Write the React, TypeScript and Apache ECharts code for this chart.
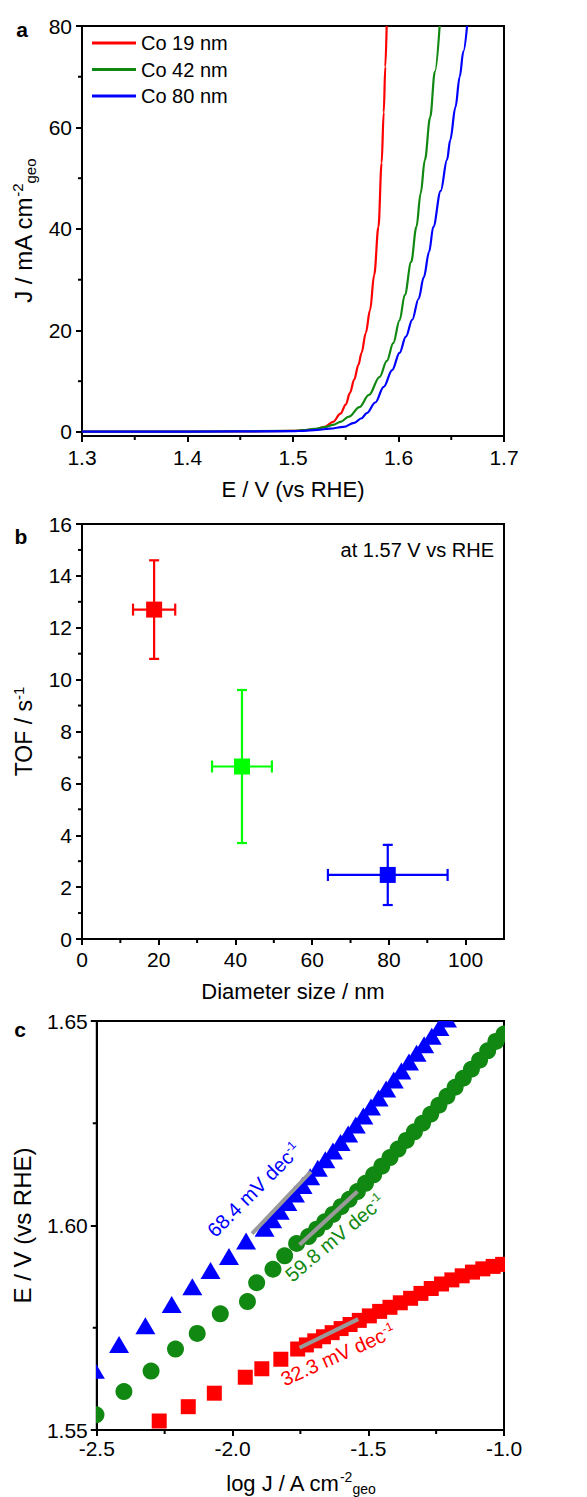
import React, { useEffect, useRef } from "react";
import * as echarts from "echarts";

const FONT = "'Liberation Sans', Arial, Helvetica, sans-serif";

// ---------- Panel a: LSV curves [E (V vs RHE), J (mA cm-2 geo)] ----------
const lsvNames = ["Co 19 nm", "Co 42 nm", "Co 80 nm"];
const lsvColors = ["#ff0000", "#118811", "#0000ff"];
const lsvCo19: number[][] = [
  [1.3, 0.05], [1.4, 0.08], [1.45, 0.1], [1.5, 0.2], [1.515, 0.4], [1.523, 0.6],
  [1.53, 1.0], [1.538, 2.0], [1.545, 3.6], [1.55, 5.4], [1.554, 7.7], [1.558, 10.3],
  [1.562, 13.2], [1.565, 15.6], [1.569, 19.5], [1.573, 24], [1.577, 31], [1.581, 40.4],
  [1.584, 53], [1.586, 63], [1.5875, 72], [1.5888, 80],
];
const lsvCo42: number[][] = [
  [1.3, 0.05], [1.4, 0.08], [1.5, 0.2], [1.51, 0.35], [1.52, 0.6], [1.53, 0.95],
  [1.538, 1.4], [1.545, 2.0], [1.553, 3.0], [1.563, 4.9], [1.572, 7.3], [1.582, 10.8],
  [1.589, 14.0], [1.595, 17.5], [1.601, 22], [1.606, 27], [1.612, 33.5], [1.617, 40.4],
  [1.621, 47], [1.625, 53.6], [1.63, 62], [1.6345, 71], [1.639, 80],
];
const lsvCo80: number[][] = [
  [1.3, 0.05], [1.4, 0.08], [1.5, 0.15], [1.51, 0.22], [1.523, 0.4], [1.535, 0.65],
  [1.548, 1.0], [1.558, 1.8], [1.565, 2.7], [1.57, 3.7], [1.578, 5.8], [1.586, 8.9],
  [1.594, 12.2], [1.601, 15.6], [1.607, 18.8], [1.613, 22.1], [1.619, 26.2],
  [1.624, 30.5], [1.629, 35.5], [1.633, 40.4], [1.64, 47.5], [1.646, 53.6],
  [1.649, 57.5], [1.654, 64], [1.658, 70], [1.6615, 75], [1.665, 80],
];
const aXTicks = [1.3, 1.4, 1.5, 1.6, 1.7];
const aXMinor = [1.35, 1.45, 1.55, 1.65];
const aYTicks = [0, 20, 40, 60, 80];
const aYMinor = [10, 30, 50, 70];

// ---------- Panel b: TOF vs diameter ----------
const diameters = [18.8, 41.7, 79.7];
const diameterErr = [5.5, 7.8, 15.6];
const tof = [12.7, 6.65, 2.47];
const tofErr = [1.9, 2.95, 1.16];
const tofColors = ["#ff0000", "#00ff00", "#0000ff"];
const bXTicks = [0, 20, 40, 60, 80, 100];
const bXMinor = [10, 30, 50, 70, 90];
const bYTicks = [0, 2, 4, 6, 8, 10, 12, 14, 16];
const bYMinor = [1, 3, 5, 7, 9, 11, 13, 15];

// ---------- Panel c: Tafel plots [log J, E] ----------
const tafelCo80: number[][] = [
  [-2.507, 1.5646], [-2.418, 1.5709], [-2.321, 1.5755], [-2.224, 1.5807],
  [-2.148, 1.585], [-2.081, 1.589], [-2.013, 1.5924], [-1.95, 1.5962],
  [-1.882, 1.5993], [-1.854, 1.6014], [-1.826, 1.6035], [-1.798, 1.6056],
  [-1.77, 1.6077], [-1.742, 1.6098], [-1.714, 1.6119], [-1.686, 1.614],
  [-1.658, 1.6161], [-1.63, 1.6182], [-1.602, 1.6203], [-1.574, 1.6224],
  [-1.546, 1.6246], [-1.518, 1.6268], [-1.49, 1.629], [-1.462, 1.6312],
  [-1.434, 1.6334], [-1.406, 1.6356], [-1.378, 1.6378], [-1.35, 1.64],
  [-1.322, 1.6421], [-1.294, 1.6442], [-1.266, 1.6463], [-1.238, 1.6484],
  [-1.21, 1.6505], [-1.182, 1.6526],
];
const tafelCo42: number[][] = [
  [-2.503, 1.5537], [-2.4, 1.5594], [-2.3, 1.5644], [-2.21, 1.5698],
  [-2.13, 1.5736], [-2.045, 1.5784], [-1.945, 1.5814], [-1.911, 1.586],
  [-1.851, 1.5893], [-1.808, 1.5926], [-1.764, 1.5956], [-1.72, 1.5973],
  [-1.69, 1.5991], [-1.66, 1.6009], [-1.63, 1.6027], [-1.6, 1.6046],
  [-1.57, 1.6064], [-1.54, 1.6083], [-1.51, 1.6103], [-1.48, 1.6124],
  [-1.45, 1.6145], [-1.42, 1.6166], [-1.39, 1.6187], [-1.36, 1.6208],
  [-1.33, 1.6229], [-1.3, 1.625], [-1.27, 1.6272], [-1.24, 1.6294],
  [-1.21, 1.6316], [-1.18, 1.6338], [-1.15, 1.636], [-1.12, 1.6382],
  [-1.09, 1.6404], [-1.06, 1.6427], [-1.03, 1.645], [-1.0, 1.6468],
];
const tafelCo19: number[][] = [
  [-2.27, 1.5522], [-2.163, 1.5557], [-2.067, 1.559], [-1.953, 1.5629],
  [-1.892, 1.565], [-1.822, 1.5673], [-1.76, 1.5698], [-1.728, 1.5708],
  [-1.697, 1.5718], [-1.665, 1.5728], [-1.633, 1.5738], [-1.6, 1.5748],
  [-1.567, 1.5758], [-1.533, 1.5768], [-1.496, 1.5779], [-1.458, 1.579],
  [-1.42, 1.58], [-1.382, 1.5811], [-1.344, 1.5822], [-1.306, 1.5834],
  [-1.268, 1.5846], [-1.23, 1.5857], [-1.192, 1.5867], [-1.154, 1.5877],
  [-1.116, 1.5886], [-1.078, 1.5894], [-1.04, 1.59], [-1.005, 1.5905],
];
const fitCo80 = [[-1.928, 1.598], [-1.711, 1.6132]];
const fitCo42 = [[-1.753, 1.5953], [-1.54, 1.6083]];
const fitCo19 = [[-1.753, 1.5701], [-1.537, 1.5771]];
const slopeTexts = ["68.4 mV dec", "59.8 mV dec", "32.3 mV dec"];
const cXTicks = [-2.5, -2.0, -1.5, -1.0];
const cXMinor = [-2.25, -1.75, -1.25];
const cYTicks = [1.55, 1.6, 1.65];
const cYMinor = [1.575, 1.625];

function nameStyle(size: number) {
  const small = Math.round(size * 0.64);
  return {
    fontSize: size, lineHeight: size + 4, color: "#000", fontFamily: FONT,
    rich: {
      sup: { fontSize: small, lineHeight: small, verticalAlign: "top", color: "#000", fontFamily: FONT },
      sub: { fontSize: small, lineHeight: small - 2, verticalAlign: "bottom", color: "#000", fontFamily: FONT },
    },
  };
}

function majorAxis(gridIndex: number, position: string, min: number, max: number, ticks: number[], fmt: (v: number) => string, margin: number, name: string, nameGap: number, nameSize: number) {
  return {
    type: "value", gridIndex, position, min, max,
    axisLine: { show: true, onZero: false, lineStyle: { color: "#000", width: 2 } },
    axisTick: { show: true, inside: false, length: 6, customValues: ticks, lineStyle: { color: "#000", width: 2 } },
    axisLabel: { show: true, customValues: ticks, formatter: (v: number) => fmt(v), margin, fontSize: 21, color: "#000", fontFamily: FONT },
    splitLine: { show: false },
    minorTick: { show: false },
    name, nameLocation: "middle", nameGap, nameTextStyle: nameStyle(nameSize),
  };
}

// minor ticks, placed through the axes of one grid
function minorTickSeries(gi: number, dim: "x" | "y", values: number[], edge: number) {
  return {
    type: "custom", xAxisIndex: gi, yAxisIndex: gi, clip: false, silent: true, z: 1,
    encode: { x: 0, y: 1 },
    data: values.map((v) => (dim === "x" ? [v, edge] : [edge, v])),
    renderItem: (_p: any, api: any) => {
      const pt = api.coord([api.value(0), api.value(1)]);
      const x2 = dim === "x" ? pt[0] : pt[0] - 4;
      const y2 = dim === "x" ? pt[1] + 4 : pt[1];
      return { type: "line", shape: { x1: pt[0], y1: pt[1], x2, y2 }, style: { stroke: "#000", lineWidth: 2 } };
    },
  };
}

function markerSeries(name: string, data: number[][], shape: string, color: string) {
  return {
    type: "custom", name, xAxisIndex: 2, yAxisIndex: 2, clip: true, data,
    encode: { x: 0, y: 1 }, z: 3,
    renderItem: (_p: any, api: any) => {
      const pt = api.coord([api.value(0), api.value(1)]);
      const cx = pt[0], cy = pt[1];
      if (shape === "circle") return { type: "circle", shape: { cx, cy, r: 8.5 }, style: { fill: color } };
      if (shape === "rect") return { type: "rect", shape: { x: cx - 7.5, y: cy - 7.5, width: 15, height: 15 }, style: { fill: color } };
      const w = 20, h = 17;
      return { type: "polygon", shape: { points: [[cx, cy - h / 2], [cx + w / 2, cy + h / 2], [cx - w / 2, cy + h / 2]] }, style: { fill: color } };
    },
  };
}
function fitSeries(name: string, data: number[][]) {
  return {
    type: "line", name, xAxisIndex: 2, yAxisIndex: 2, data, symbol: "none", z: 6,
    lineStyle: { color: "#9a9a9a", width: 4 },
  };
}
function slopeLabel(text: string, color: string, x: number, y: number, deg: number) {
  return {
    type: "text", x, y, rotation: (deg * Math.PI) / 180, z: 10,
    style: {
      text: text + "{sup|-1}", fill: color, fontSize: 20, fontFamily: FONT, lineHeight: 22,
      align: "center", verticalAlign: "middle",
      rich: { sup: { fontSize: 12, lineHeight: 12, verticalAlign: "top", fill: color, fontFamily: FONT } },
    },
  };
}
function panelLabel(t: string, x: number, y: number) {
  return { type: "text", x, y, style: { text: t, fill: "#000", fontSize: 21, fontWeight: "bold", fontFamily: FONT, align: "center", verticalAlign: "middle" } };
}

export default function App() {
  const ref = useRef<HTMLDivElement>(null);
  useEffect(() => {
    if (!ref.current) return;
    const chart = echarts.init(ref.current, undefined, { renderer: "svg" });
    const gridBase = { show: true, borderColor: "#000", borderWidth: 2, backgroundColor: "transparent", containLabel: false };
    const option: any = {
      animation: false,
      backgroundColor: "#fff",
      grid: [
        { ...gridBase, left: 82, top: 26, width: 422, height: 410 },
        { ...gridBase, left: 82, top: 524, width: 422, height: 415 },
        { ...gridBase, left: 82, top: 1021, width: 422, height: 411 },
      ],
      xAxis: [
        majorAxis(0, "bottom", 1.3, 1.7, aXTicks, (v) => v.toFixed(1), 11, "E / V (vs RHE)", 40, 22),
        majorAxis(1, "bottom", 0, 110, bXTicks, (v) => String(Math.round(v)), 10, "Diameter size / nm", 39, 22),
        majorAxis(2, "bottom", -2.5, -1.0, cXTicks, (v) => v.toFixed(1), 8, "log J / A cm{sup|-2}{sub|geo}", 40, 22),
      ],
      yAxis: [
        majorAxis(0, "left", -0.8, 80, aYTicks, (v) => String(Math.round(v)), 10, "J / mA cm{sup|-2}{sub|geo}", 41, 24),
        majorAxis(1, "left", 0, 16, bYTicks, (v) => String(Math.round(v)), 10, "TOF / s{sup|-1}", 44, 23),
        majorAxis(2, "left", 1.55, 1.65, cYTicks, (v) => v.toFixed(2), 9, "E / V (vs RHE)", 42, 24),
      ],
      legend: {
        data: lsvNames, left: 92, top: 33, orient: "vertical", icon: "rect",
        itemWidth: 44, itemHeight: 3, itemGap: 6.5, padding: 0, selectedMode: false,
        textStyle: { fontSize: 20, color: "#000", fontFamily: FONT },
      },
      series: [
        ...[lsvCo19, lsvCo42, lsvCo80].map((d, i) => ({
          type: "line", name: lsvNames[i], xAxisIndex: 0, yAxisIndex: 0, data: d,
          symbol: "none", showSymbol: false, smooth: 0.35, smoothMonotone: "x",
          color: lsvColors[i], lineStyle: { color: lsvColors[i], width: 2.2 },
        })),
        minorTickSeries(0, "x", aXMinor, -0.8),
        minorTickSeries(0, "y", aYMinor, 1.3),
        minorTickSeries(1, "x", bXMinor, 0),
        minorTickSeries(1, "y", bYMinor, 0),
        minorTickSeries(2, "x", cXMinor, 1.55),
        minorTickSeries(2, "y", cYMinor, -2.5),
        {
          type: "custom", name: "TOF", xAxisIndex: 1, yAxisIndex: 1, clip: false,
          encode: { x: 0, y: 1 },
          data: diameters.map((d, i) => [d, tof[i], diameterErr[i], tofErr[i]]),
          renderItem: (p: any, api: any) => {
            const x = api.value(0), y = api.value(1), xe = api.value(2), ye = api.value(3);
            const c = api.coord([x, y]);
            const l = api.coord([x - xe, y]), r = api.coord([x + xe, y]);
            const t = api.coord([x, y + ye]), b = api.coord([x, y - ye]);
            const color = tofColors[p.dataIndex];
            const ls = { stroke: color, lineWidth: 2.2 };
            return {
              type: "group",
              children: [
                { type: "line", shape: { x1: l[0], y1: l[1], x2: r[0], y2: r[1] }, style: ls },
                { type: "line", shape: { x1: t[0], y1: t[1], x2: b[0], y2: b[1] }, style: ls },
                { type: "line", shape: { x1: l[0], y1: l[1] - 6, x2: l[0], y2: l[1] + 6 }, style: ls },
                { type: "line", shape: { x1: r[0], y1: r[1] - 6, x2: r[0], y2: r[1] + 6 }, style: ls },
                { type: "line", shape: { x1: t[0] - 5, y1: t[1], x2: t[0] + 5, y2: t[1] }, style: ls },
                { type: "line", shape: { x1: b[0] - 5, y1: b[1], x2: b[0] + 5, y2: b[1] }, style: ls },
                { type: "rect", shape: { x: c[0] - 8, y: c[1] - 8, width: 16, height: 16 }, style: { fill: color } },
              ],
            };
          },
        },
        markerSeries("Tafel Co 80 nm", tafelCo80, "triangle", "#0000ff"),
        markerSeries("Tafel Co 42 nm", tafelCo42, "circle", "#118811"),
        markerSeries("Tafel Co 19 nm", tafelCo19, "rect", "#ff0000"),
        fitSeries("Fit Co 80 nm", fitCo80),
        fitSeries("Fit Co 42 nm", fitCo42),
        fitSeries("Fit Co 19 nm", fitCo19),
      ],
      graphic: [
        panelLabel("a", 22, 29),
        panelLabel("b", 21, 536),
        panelLabel("c", 20, 1029),
        {
          type: "text", x: 494, y: 550,
          style: { text: "at 1.57 V vs RHE", fill: "#000", fontSize: 20, fontFamily: FONT, align: "right", verticalAlign: "middle" },
        },
        slopeLabel(slopeTexts[0], "#0000ff", 254, 1190, 45),
        slopeLabel(slopeTexts[1], "#118811", 335, 1238, 40),
        slopeLabel(slopeTexts[2], "#ff0000", 338, 1355, 24),
      ],
    };
    chart.setOption(option);
    return () => chart.dispose();
  }, []);
  return <div ref={ref} style={{ position: "absolute", left: 0, top: 0, width: 587, height: 1497 }} />;
}
